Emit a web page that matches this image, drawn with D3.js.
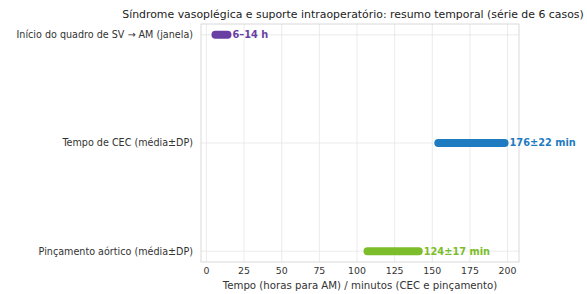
<!DOCTYPE html>
<html lang="pt">
<head>
<meta charset="UTF-8">
<script src="https://d3js.org/d3.v7.min.js"></script>
<style>
  body { margin: 0; background: #fff; font-family: "DejaVu Sans", sans-serif; }
  .grid line { stroke: #e6e6e6; stroke-width: 0.8px; }
</style>
</head>
<body>
<svg id="chart" width="587" height="294"></svg>
<script>
const categories = [
  "Início do quadro de SV → AM (janela)",
  "Tempo de CEC (média±DP)",
  "Pinçamento aórtico (média±DP)"
];
const starts = [6, 154, 107];
const ends = [14, 198, 141];
const labels = ["6–14 h", "176±22 min", "124±17 min"];
const colors = ["#6a3fa3", "#1f7bc0", "#7cbd2b"];
const xTicks = [0, 25, 50, 75, 100, 125, 150, 175, 200];

const margin = {left: 201, right: 68, top: 24, bottom: 32};
const width = 587, height = 294;
const svg = d3.select("#chart");

const x = d3.scaleLinear().domain([-3.6, 207.6]).range([margin.left, width - margin.right]);
const y = d3.scaleLinear().domain([-0.1, 2.1]).range([margin.top, height - margin.bottom]);

// grid
const grid = svg.append("g").attr("class", "grid");
grid.selectAll(".vx").data(xTicks).enter().append("line")
  .attr("x1", d => x(d)).attr("x2", d => x(d))
  .attr("y1", margin.top).attr("y2", height - margin.bottom);
grid.selectAll(".hy").data(categories).enter().append("line")
  .attr("x1", margin.left).attr("x2", width - margin.right)
  .attr("y1", (d, i) => y(i)).attr("y2", (d, i) => y(i));

svg.append("rect")
  .attr("x", margin.left).attr("y", margin.top)
  .attr("width", width - margin.left - margin.right)
  .attr("height", height - margin.top - margin.bottom)
  .attr("fill", "none").attr("stroke", "#d0d0d0").attr("stroke-width", 0.8);

// bars
svg.selectAll(".bar").data(categories).enter().append("line")
  .attr("x1", (d, i) => x(starts[i])).attr("x2", (d, i) => x(ends[i]))
  .attr("y1", (d, i) => y(i)).attr("y2", (d, i) => y(i))
  .attr("stroke", (d, i) => colors[i])
  .attr("stroke-width", 8).attr("stroke-linecap", "round");

svg.selectAll(".lbl").data(labels).enter().append("text")
  .attr("x", (d, i) => x(ends[i]) + 5).attr("y", (d, i) => y(i))
  .attr("dy", "0.35em").attr("fill", (d, i) => colors[i])
  .attr("font-size", 9.8).attr("font-weight", "bold").text(d => d);

// y labels
svg.selectAll(".ylab").data(categories).enter().append("text")
  .attr("x", margin.left - 8).attr("y", (d, i) => y(i))
  .attr("dy", "0.35em").attr("text-anchor", "end")
  .attr("font-size", 9.6).attr("fill", "#333").text(d => d);

// x axis
svg.selectAll(".xt").data(xTicks).enter().append("text")
  .attr("x", d => x(d)).attr("y", 274)
  .attr("text-anchor", "middle").attr("font-size", 9.4).attr("fill", "#333").text(d => d);

svg.append("text")
  .attr("x", (margin.left + width - margin.right) / 2).attr("y", 289)
  .attr("text-anchor", "middle").attr("font-size", 10.2).attr("fill", "#333")
  .text("Tempo (horas para AM) / minutos (CEC e pinçamento)");

svg.append("text")
  .attr("x", (margin.left + width - margin.right) / 2 - 7).attr("y", 18)
  .attr("text-anchor", "middle").attr("font-size", 10.9).attr("fill", "#222")
  .text("Síndrome vasoplégica e suporte intraoperatório: resumo temporal (série de 6 casos)");
</script>
</body>
</html>
